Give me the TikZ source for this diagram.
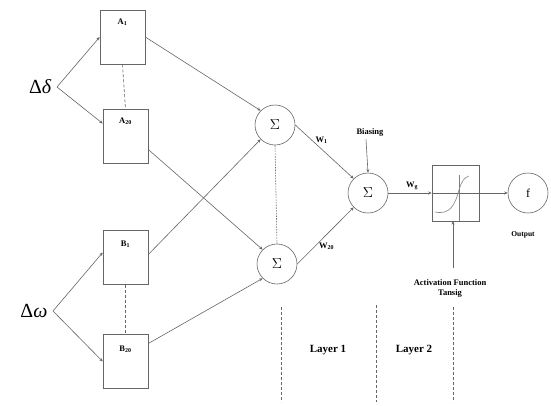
\documentclass[tikz,border=0pt]{standalone}
\usepackage{fontspec}
\setmainfont{Liberation Serif}
\usetikzlibrary{arrows.meta}
\begin{document}
\begin{tikzpicture}[x=1pt,y=-1pt,
  line/.style={draw=black!60,line width=0.6pt},
  arr/.style={line,-{Stealth[length=3.5pt,width=3pt]}},
  blk/.style={draw=black!60,line width=0.6pt,minimum width=45pt,minimum height=54pt,inner sep=0pt},
  sumc/.style={draw=black!60,line width=0.6pt,circle,minimum size=40pt,inner sep=0pt,font=\Large},
  blbl/.style={font=\bfseries\fontsize{8.5}{10}\selectfont},
  dsh/.style={draw=black!60,line width=0.6pt,dash pattern=on 3pt off 2pt}]
\useasboundingbox (0,0) rectangle (551,405);
% boxes
\node[blk] (A1) at (122.5,37) {};
\node[blk] (A20) at (125.5,136.5) {};
\node[blk] (B1) at (125.5,257.5) {};
\node[blk] (B20) at (125.5,361.5) {};
\node[blbl] at (122.5,22) {A$_{\mathbf 1}$};
\node[blbl] at (125.5,121) {A$_{\mathbf{20}}$};
\node[blbl] at (125.5,244) {B$_{\mathbf 1}$};
\node[blbl] at (125.5,349) {B$_{\mathbf{20}}$};
% inputs
\node[font=\fontsize{20}{22}\selectfont,anchor=east] (dd) at (55,87) {Δ\textit{δ}};
\node[font=\fontsize{20}{22}\selectfont,anchor=east] (dw) at (51,311) {Δ\textit{ω}};
\coordinate (jd) at (57,87);
\coordinate (jw) at (53,311);
\draw[arr] (jd) -- (A1.west);
\draw[arr] (jd) -- ([yshift=13]A20.west);
\draw[arr] (jw) -- ([yshift=5]B1.west);
\draw[arr] (jw) -- ([yshift=0]B20.west);
\draw[dsh] (A1.south) -- (A20.north);
\draw[dsh] (B1.south) -- (B20.north);
% sums
\node[sumc] (S1) at (275,125) {$\Sigma$};
\node[sumc] (S2) at (277,264) {$\Sigma$};
\node[sumc] (S3) at (368,193) {$\Sigma$};
\draw[draw=black!60,line width=0.6pt,dash pattern=on 1.5pt off 1.2pt] (S1.south) -- (S2.north);
\draw[arr] ([yshift=0]A1.east) -- (S1.north west);
\draw[arr] ([yshift=-13]A20.east) -- (S2.north west);
\draw[arr] ([yshift=3]B1.east) -- (S1.south west);
\draw[arr] ([yshift=18]B20.east) -- (S2.south west);
\draw[arr] (S1.east) -- (S3.north west) node[pos=0.45,above,blbl,yshift=2pt] {W$_{\mathbf 1}$};
\draw[arr] (S2.east) -- (S3.south west) node[pos=0.45,below,blbl,yshift=-1pt,xshift=4pt] {W$_{\mathbf{20}}$};
\node[blbl] (bias) at (370,132) {Biasing};
\draw[arr] ([xshift=-4]bias.south) -- (S3.north);
% tansig box
\node[draw=black!60,line width=0.6pt,minimum width=47pt,minimum height=56pt,inner sep=0pt] (T) at (455.5,193) {};
\draw[arr] (S3.east) -- (T.west) node[pos=0.55,above,blbl] {W$_{\mathbf g}$};
\draw[line] (T.west) -- (T.east);
\draw[draw=black!50,line width=0.5pt] (459,175) -- (459,221);
\draw[draw=black!50,line width=0.6pt] (435,212) .. controls (450,215) and (455,205) .. (459,190) .. controls (462,180) and (464,178) .. (469,176);
\node[sumc,font=\large] (F) at (528,193) {f};
\draw[arr] (T.east) -- (F.west);
\node[font=\bfseries\fontsize{7.5}{8}\selectfont] at (523,235) {Output};
\node[blbl,align=center] (act) at (450,288) {Activation Function\\Tansig};
\draw[arr] (453,268) -- (453,221);
% layers
\draw[dsh] (281,307) -- (281,402);
\draw[dsh] (376,305) -- (376,402);
\draw[dsh] (453,307) -- (453,402);
\node[font=\bfseries\fontsize{11}{12}\selectfont] at (328,350) {Layer 1};
\node[font=\bfseries\fontsize{11}{12}\selectfont] at (414,350) {Layer 2};
\end{tikzpicture}
\end{document}
